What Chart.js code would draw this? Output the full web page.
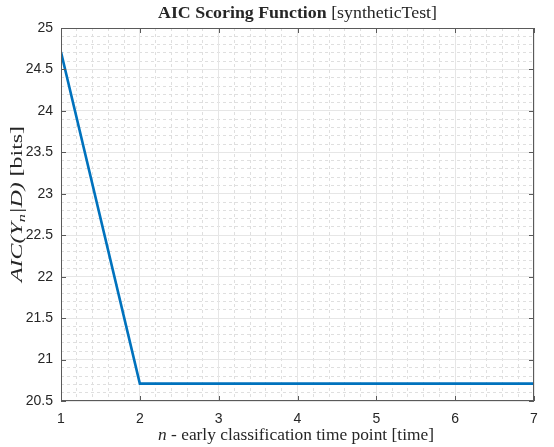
<!DOCTYPE html>
<html>
<head>
<meta charset="utf-8">
<script src="https://cdn.jsdelivr.net/npm/chart.js@4.4.0/dist/chart.umd.min.js"></script>
<style>
  html, body { margin: 0; padding: 0; background: #fff; }
</style>
</head>
<body>
<canvas id="myChart" width="554" height="447"></canvas>
<script>
const timePoints = [1, 2, 3, 4, 5, 6, 7];
const aicValues = [24.71, 20.71, 20.71, 20.71, 20.71, 20.71, 20.71];
const xTicks = [1, 2, 3, 4, 5, 6, 7];
const yTicks = [20.5, 21, 21.5, 22, 22.5, 23, 23.5, 24, 24.5, 25];

const textColor = "#262626";
const tickFont = { family: "'Liberation Sans', Arial, sans-serif", size: 14 };
const serif = "'Liberation Serif', 'DejaVu Serif', serif";

/**
 * draws a row of text parts (each with its own font), stretched to a width
 */
function drawParts(ctx, parts, cx, baseline, targetWidth, rotated) {
  let natural = 0;
  parts.forEach((p) => {
    ctx.font = p.font;
    p.w = ctx.measureText(p.text).width;
    natural += p.w;
  });
  const k = targetWidth / natural;
  ctx.save();
  ctx.fillStyle = textColor;
  ctx.textBaseline = "alphabetic";
  if (rotated) {
    ctx.translate(baseline, cx);
    ctx.rotate(-Math.PI / 2);
  } else {
    ctx.translate(cx, baseline);
  }
  ctx.scale(k, 1);
  let pos = -natural / 2;
  parts.forEach((p) => {
    ctx.font = p.font;
    ctx.fillText(p.text, pos, p.dy || 0);
    pos += p.w;
  });
  ctx.restore();
}

/**
 * draws the box round the plot and the inner tick marks (matlab style)
 */
const axesBox = {
  id: "axesBox",
  afterDatasetsDraw(chart) {
    const { ctx, chartArea: a, scales } = chart;
    const x = scales.x;
    const y = scales.y;
    ctx.save();
    ctx.strokeStyle = "#5a5a5a";
    ctx.lineWidth = 1;
    ctx.beginPath();
    xTicks.forEach((v) => {
      const px = Math.round(x.getPixelForValue(v)) + 0.5;
      ctx.moveTo(px, a.bottom);
      ctx.lineTo(px, a.bottom - 5);
      ctx.moveTo(px, a.top);
      ctx.lineTo(px, a.top + 5);
    });
    yTicks.forEach((v) => {
      const py = Math.round(y.getPixelForValue(v)) + 0.5;
      ctx.moveTo(a.left, py);
      ctx.lineTo(a.left + 5, py);
      ctx.moveTo(a.right, py);
      ctx.lineTo(a.right - 5, py);
    });
    ctx.stroke();
    ctx.strokeRect(Math.round(a.left) + 0.5, Math.round(a.top) + 0.5,
      Math.round(a.width) - 1, Math.round(a.height) - 1);
    ctx.restore();
  },
};

/**
 * title and axis labels with mixed (bold / italic) parts
 */
const labels = {
  id: "labels",
  afterDraw(chart) {
    const { ctx, chartArea: a } = chart;
    const midX = (a.left + a.right) / 2;
    drawParts(ctx, [
      { text: "AIC Scoring Function ", font: "bold 16px " + serif },
      { text: "[syntheticTest]", font: "16px " + serif },
    ], midX, 18, 279, false);

    drawParts(ctx, [
      { text: "n", font: "italic 17px " + serif },
      { text: " - early classification time point [time]", font: "17px " + serif },
    ], 296, 440, 276, false);

    drawParts(ctx, [
      { text: "AIC(", font: "italic 16px " + serif },
      { text: "Y", font: "italic 16px " + serif },
      { text: "n", font: "italic 11px " + serif, dy: 3 },
      { text: "|D) ", font: "italic 16px " + serif },
      { text: "[bits]", font: "16px " + serif },
    ], 204, 22, 156, true);
  },
};

function drawGraph() {
  const ctx = document.getElementById("myChart").getContext("2d");
  new Chart(ctx, {
    type: "line",
    data: {
      datasets: [
        {
          data: timePoints.map((t, i) => ({ x: t, y: aicValues[i] })),
          borderColor: "#0072BD",
          borderWidth: 2.6,
          pointRadius: 0,
          tension: 0,
          fill: false,
        },
      ],
    },
    options: {
      responsive: false,
      animation: false,
      devicePixelRatio: 1,
      layout: { padding: { top: 28, right: 20, bottom: 0, left: 0 } },
      plugins: { legend: { display: false }, tooltip: { enabled: false }, title: { display: false } },
      scales: {
        xMinor: {
          type: "linear",
          axis: "x",
          position: "bottom",
          min: 1,
          max: 7,
          ticks: { display: false, stepSize: 0.2 },
          afterBuildTicks: (s) => {
            s.ticks = s.ticks.filter((t) => Math.abs(t.value - Math.round(t.value)) > 1e-6);
          },
          grid: { color: "#dfdfdf", drawTicks: false, borderDash: [3, 3] },
          border: { display: false, dash: [3, 3] },
          afterFit: (s) => { s.height = 0; },
        },
        yMinor: {
          type: "linear",
          axis: "y",
          position: "left",
          min: 20.5,
          max: 25,
          ticks: { display: false, stepSize: 0.1 },
          afterBuildTicks: (s) => {
            s.ticks = s.ticks.filter((t) => Math.abs(t.value * 2 - Math.round(t.value * 2)) > 1e-6);
          },
          grid: { color: "#dfdfdf", drawTicks: false, borderDash: [3, 3] },
          border: { display: false, dash: [3, 3] },
          afterFit: (s) => { s.width = 0; },
        },
        x: {
          type: "linear",
          position: "bottom",
          min: 1,
          max: 7,
          afterBuildTicks: (s) => { s.ticks = xTicks.map((v) => ({ value: v })); },
          ticks: { font: tickFont, color: textColor, padding: 10, callback: (v) => String(v) },
          grid: { color: "#e6e6e6", drawTicks: false },
          border: { display: false },
          afterFit: (s) => { s.height = 46; },
        },
        y: {
          type: "linear",
          position: "left",
          min: 20.5,
          max: 25,
          afterBuildTicks: (s) => { s.ticks = yTicks.map((v) => ({ value: v })); },
          ticks: { font: tickFont, color: textColor, padding: 8, callback: (v) => String(v) },
          grid: { color: "#e6e6e6", drawTicks: false },
          border: { display: false },
          afterFit: (s) => { s.width = 61; },
        },
      },
    },
    plugins: [axesBox, labels],
  });
}

drawGraph();
</script>
</body>
</html>
